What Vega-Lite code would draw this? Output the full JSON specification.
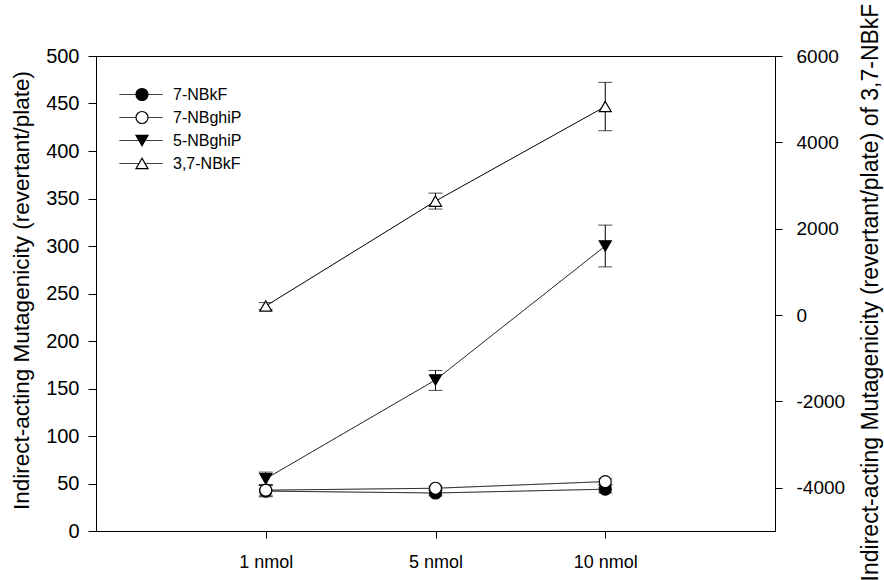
{
  "$schema": "https://vega.github.io/schema/vega-lite/v6.json",
  "width": 679,
  "height": 475,
  "autosize": {"type": "none"},
  "padding": {"left": 96, "top": 56, "right": 109, "bottom": 49},
  "background": "white",
  "config": {
    "font": "Liberation Sans",
    "view": {"stroke": "black", "strokeWidth": 1},
    "axis": {
      "grid": false,
      "domainColor": "black",
      "tickColor": "black",
      "labelColor": "black",
      "titleColor": "black",
      "labelFontSize": 19,
      "titleFontSize": 22.5,
      "titleFontWeight": "normal",
      "labelFont": "Liberation Sans",
      "titleFont": "Liberation Sans",
      "domainWidth": 1,
      "tickWidth": 1
    }
  },
  "data": {
    "values": [
      {"series": "7-NBkF", "dose": "1 nmol", "mean": 42, "lo": 36, "hi": 48},
      {"series": "7-NBkF", "dose": "5 nmol", "mean": 40, "lo": 37, "hi": 43},
      {"series": "7-NBkF", "dose": "10 nmol", "mean": 44, "lo": 40, "hi": 48},
      {"series": "7-NBghiP", "dose": "1 nmol", "mean": 43, "lo": 37, "hi": 49},
      {"series": "7-NBghiP", "dose": "5 nmol", "mean": 45, "lo": 43, "hi": 47},
      {"series": "7-NBghiP", "dose": "10 nmol", "mean": 52, "lo": 49, "hi": 55},
      {"series": "5-NBghiP", "dose": "1 nmol", "mean": 55, "lo": 48, "hi": 62},
      {"series": "5-NBghiP", "dose": "5 nmol", "mean": 159, "lo": 148, "hi": 169},
      {"series": "5-NBghiP", "dose": "10 nmol", "mean": 300, "lo": 278, "hi": 322},
      {"series": "3,7-NBkF", "dose": "1 nmol", "mean": 210, "lo": 130, "hi": 290},
      {"series": "3,7-NBkF", "dose": "5 nmol", "mean": 2640, "lo": 2455, "hi": 2825},
      {"series": "3,7-NBkF", "dose": "10 nmol", "mean": 4830, "lo": 4270, "hi": 5390}
    ]
  },
  "encoding": {
    "x": {
      "field": "dose",
      "type": "ordinal",
      "sort": ["1 nmol", "5 nmol", "10 nmol"],
      "scale": {"type": "point", "padding": 1},
      "axis": {"title": null, "labelAngle": 0, "tickSize": 7, "labelPadding": 15, "labelFontSize": 18, "domain": true}
    }
  },
  "layer": [
    {
      "transform": [{"filter": "datum.series !== '3,7-NBkF'"}],
      "layer": [
        {
          "mark": {"type": "line", "stroke": "black", "strokeWidth": 1},
          "encoding": {
            "y": {
              "field": "mean",
              "type": "quantitative",
              "title": "Indirect-acting Mutagenicity (revertant/plate)",
              "scale": {"domain": [0, 500], "nice": false, "zero": false},
              "axis": {
                "values": [0, 50, 100, 150, 200, 250, 300, 350, 400, 450, 500],
                "tickSize": 8,
                "labelPadding": 9,
                "labelFontSize": 20,
                "titleAngle": 270,
                "titleBaseline": "middle",
                "titleX": -75,
                "titleY": 234
              }
            },
            "strokeDash": {
              "field": "series",
              "type": "nominal",
              "scale": {"domain": {"unionWith": ["7-NBkF", "7-NBghiP", "5-NBghiP", "3,7-NBkF"]}, "range": [[1, 0], [1, 0], [1, 0], [1, 0]]},
              "legend": {
                "title": null,
                "orient": "none",
                "legendX": 23,
                "legendY": 30,
                "padding": 0,
                "symbolType": "stroke",
                "symbolSize": 1849,
                "symbolStrokeColor": "black",
                "symbolStrokeWidth": 1,
                "labelExpr": "''",
                "labelFontSize": 16,
                "clipHeight": 17,
                "rowPadding": 6
              }
            }
          }
        },
        {
          "mark": {"type": "rule", "stroke": "black", "strokeWidth": 1},
          "encoding": {
            "y": {"field": "lo", "type": "quantitative", "title": "Indirect-acting Mutagenicity (revertant/plate)"},
            "y2": {"field": "hi"}
          }
        },
        {
          "mark": {"type": "tick", "orient": "horizontal", "size": 14, "thickness": 1, "color": "black"},
          "encoding": {"y": {"field": "lo", "type": "quantitative", "title": "Indirect-acting Mutagenicity (revertant/plate)"}}
        },
        {
          "mark": {"type": "tick", "orient": "horizontal", "size": 14, "thickness": 1, "color": "black"},
          "encoding": {"y": {"field": "hi", "type": "quantitative", "title": "Indirect-acting Mutagenicity (revertant/plate)"}}
        },
        {
          "mark": {"type": "point", "filled": true, "stroke": "black", "strokeWidth": 1.2, "size": 144, "opacity": 1},
          "encoding": {
            "y": {"field": "mean", "type": "quantitative", "title": "Indirect-acting Mutagenicity (revertant/plate)"},
            "shape": {
              "field": "series",
              "type": "nominal",
              "scale": {"domain": ["7-NBkF", "7-NBghiP", "5-NBghiP", "3,7-NBkF"], "range": ["circle", "circle", "triangle-down", "triangle-up"]},
              "legend": {
                "title": null,
                "orient": "none",
                "legendX": 38,
                "legendY": 30,
                "padding": 0,
                "symbolSize": 144,
                "symbolStrokeWidth": 1.2,
                "symbolOpacity": 1,
                "labelFontSize": 16,
                "labelFont": "Liberation Sans",
                "labelColor": "black",
                "labelOffset": 23,
                "clipHeight": 17,
                "rowPadding": 6
              }
            },
            "fill": {
              "field": "series",
              "type": "nominal",
              "scale": {"domain": ["7-NBkF", "7-NBghiP", "5-NBghiP", "3,7-NBkF"], "range": ["black", "white", "black", "white"]},
              "legend": {"title": null}
            },
            "stroke": {
              "field": "series",
              "type": "nominal",
              "scale": {"domain": ["7-NBkF", "7-NBghiP", "5-NBghiP", "3,7-NBkF"], "range": ["black", "black", "black", "black"]},
              "legend": {"title": null}
            }
          }
        }
      ]
    },
    {
      "transform": [{"filter": "datum.series === '3,7-NBkF'"}],
      "layer": [
        {
          "mark": {"type": "line", "stroke": "black", "strokeWidth": 1},
          "encoding": {
            "y": {
              "field": "mean",
              "type": "quantitative",
              "title": "Indirect-acting Mutagenicity (revertant/plate) of 3,7-NBkF",
              "scale": {"domain": [-5000, 6000], "nice": false, "zero": false},
              "axis": {
                "orient": "right",
                "values": [-4000, -2000, 0, 2000, 4000, 6000],
                "labelExpr": "'' + datum.value",
                "tickSize": 7,
                "labelPadding": 14,
                "titleFontSize": 23,
                "titleAngle": 270,
                "titleBaseline": "middle",
                "titleX": 95,
                "titleY": 236
              }
            }
          }
        },
        {
          "mark": {"type": "rule", "stroke": "black", "strokeWidth": 1},
          "encoding": {
            "y": {"field": "lo", "type": "quantitative", "title": "Indirect-acting Mutagenicity (revertant/plate) of 3,7-NBkF"},
            "y2": {"field": "hi"}
          }
        },
        {
          "mark": {"type": "tick", "orient": "horizontal", "size": 14, "thickness": 1, "color": "black"},
          "encoding": {"y": {"field": "lo", "type": "quantitative", "title": "Indirect-acting Mutagenicity (revertant/plate) of 3,7-NBkF"}}
        },
        {
          "mark": {"type": "tick", "orient": "horizontal", "size": 14, "thickness": 1, "color": "black"},
          "encoding": {"y": {"field": "hi", "type": "quantitative", "title": "Indirect-acting Mutagenicity (revertant/plate) of 3,7-NBkF"}}
        },
        {
          "mark": {"type": "point", "shape": "triangle-up", "filled": true, "fill": "white", "stroke": "black", "strokeWidth": 1.2, "size": 144, "opacity": 1},
          "encoding": {
            "y": {"field": "mean", "type": "quantitative", "title": "Indirect-acting Mutagenicity (revertant/plate) of 3,7-NBkF"}
          }
        }
      ]
    }
  ],
  "resolve": {"scale": {"y": "independent"}}
}
